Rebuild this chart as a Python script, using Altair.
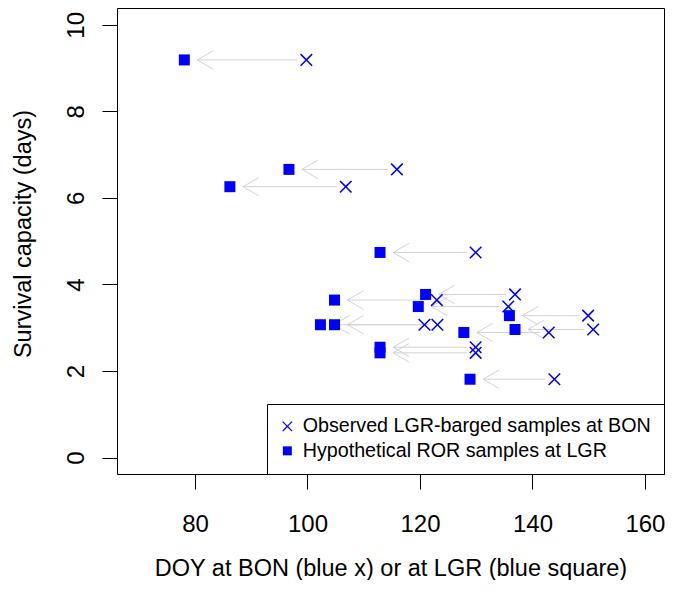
import altair as alt
import pandas as pd

# Survival-capacity samples: day of year at BON (blue x) and at LGR (blue square)
doy_bon = [99.8, 115.9, 106.8, 129.9, 123.0, 136.9, 135.7, 149.9, 150.8, 142.9,
           120.8, 123.1, 129.9, 129.9, 143.9]
doy_lgr = [78.1, 96.7, 86.2, 112.9, 104.8, 121.0, 119.7, 135.9, 136.9, 127.8,
           102.3, 104.8, 112.9, 112.9, 128.9]
capacity = [9.19, 6.66, 6.26, 4.74, 3.64, 3.77, 3.49, 3.28, 2.96, 2.89,
            3.07, 3.07, 2.55, 2.42, 1.81]

series = ["Observed LGR-barged samples at BON", "Hypothetical ROR samples at LGR"]
x_ticks = [80, 100, 120, 140, 160]
y_ticks = [0, 2, 4, 6, 8, 10]

pts = pd.concat([
    pd.DataFrame({"doy": doy_bon, "cap": capacity, "type": series[0]}),
    pd.DataFrame({"doy": doy_lgr, "cap": capacity, "type": series[1]}),
], ignore_index=True)
arrows = pd.DataFrame({"start": doy_bon, "end": doy_lgr, "cap": capacity})

FONT = "Liberation Sans"
# filled "x" glyph (thin diagonal cross) so that it also shows in the legend
XPATH = ("M 0 -0.198 L 0.951 -1.149 L 1.149 -0.951 L 0.198 0 L 1.149 0.951 L 0.951 1.149 "
         "L 0 0.198 L -0.951 1.149 L -1.149 0.951 L -0.198 0 L -1.149 -0.951 L -0.951 -1.149 Z")
HEAD = "M 2 -1.155 L 0 0 L 2 1.155"
GREY = "#d3d3d3"

xs = alt.Scale(domain=[66.13, 163.39], nice=False, zero=False)
ys = alt.Scale(domain=[-0.38, 10.39], nice=False, zero=False)

xaxis = alt.Axis(values=x_ticks, title="DOY at BON (blue x) or at LGR (blue square)",
                 labelBaseline="alphabetic", labelPadding=42,
                 titleBaseline="alphabetic", titleY=101)
yaxis = alt.Axis(values=y_ticks, title="Survival capacity (days)",
                 labelAngle=270, labelAlign="center", labelBaseline="alphabetic",
                 labelPadding=19, titleAngle=270, titleAlign="center",
                 titleBaseline="alphabetic", titleX=-87, titleY=225.5)

legend = alt.Legend(title=None, orient="bottom-right", offset=0, padding=12.5,
                    strokeColor="black", fillColor="white", cornerRadius=0,
                    labelFontSize=19.7, labelFont=FONT, labelColor="black",
                    labelLimit=1000, symbolSize=81, symbolOffset=-2,
                    symbolFillColor="blue", symbolStrokeWidth=0,
                    rowPadding=3.5, labelOffset=5.5)

rule = alt.Chart(arrows).mark_rule(color=GREY, strokeWidth=1, xOffset=-9, x2Offset=13).encode(
    x=alt.X("start:Q", scale=xs, axis=xaxis),
    x2="end:Q",
    y=alt.Y("cap:Q", scale=ys, axis=yaxis),
)
heads = alt.Chart(arrows).mark_point(shape=HEAD, size=256, stroke=GREY, strokeWidth=1,
                                     filled=False, opacity=1, xOffset=13).encode(
    x=alt.X("end:Q", scale=xs),
    y=alt.Y("cap:Q", scale=ys),
)
points = alt.Chart(pts).mark_point(filled=True, color="blue", size=121, opacity=1).encode(
    x=alt.X("doy:Q", scale=xs),
    y=alt.Y("cap:Q", scale=ys),
    shape=alt.Shape("type:N", scale=alt.Scale(domain=series, range=[XPATH, "square"]),
                    title=None, legend=legend),
)

chart = alt.layer(rule, heads, points).properties(
    width=547, height=466, autosize="none",
    padding={"left": 109, "top": 0, "right": 2, "bottom": 106},
).configure_view(stroke="black", strokeWidth=1).configure_axis(
    domain=False, grid=False, ticks=True, tickColor="black", tickSize=15, tickWidth=1,
    labelFont=FONT, labelFontSize=24, labelColor="black",
    titleFont=FONT, titleFontSize=23.5, titleFontWeight="normal", titleColor="black",
)

chart.save("out.html", embed_options={"renderer": "svg", "actions": False})
